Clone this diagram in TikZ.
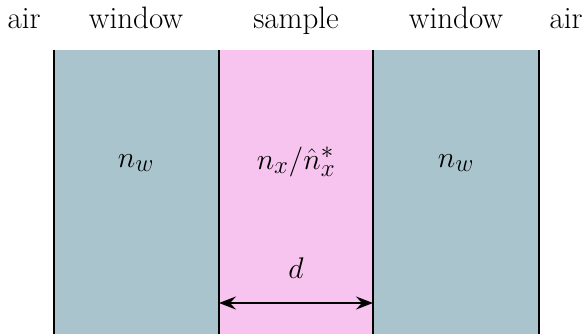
\documentclass[tikz,border=0pt]{standalone}
\usepackage{graphicx}
\usetikzlibrary{arrows.meta}
\definecolor{winblue}{HTML}{AAC4CE}
\definecolor{samppink}{HTML}{F7C3EF}
\newcommand{\bigmath}[1]{\scalebox{1.2}{$#1$}}
\begin{document}
\begin{tikzpicture}[x=1pt,y=-1pt,
  lab/.style={font=\fontsize{31}{36}\selectfont, inner sep=0pt, anchor=base},
  mlab/.style={font=\fontsize{24.88}{30}\selectfont, inner sep=0pt},
  bound/.style={line width=2pt, black}]
\useasboundingbox (0,0) rectangle (585,336);
% layers
\fill[winblue] (54,50) rectangle (219,334);
\fill[samppink] (219,50) rectangle (373,334);
\fill[winblue] (373,50) rectangle (539,334);
% boundaries
\foreach \x/\n in {54/a,219/b,373/c,539/d}{
  \coordinate (t\n) at (\x,50);
  \coordinate (b\n) at (\x,334);
  \draw[bound] (t\n) -- (b\n);
}
% top labels
\node[lab] (air1) at (24,29) {air};
\node[lab] (win1) at (136,29) {window};
\node[lab] (samp) at (296,29) {sample};
\node[lab] (win2) at (456,29) {window};
\node[lab] (air2) at (566,29) {air};
% layer labels
\node[mlab] (nw1) at (136,163) {\bigmath{n_w}};
\node[mlab] (nx) at (296,162) {\bigmath{n_x/\hat{n}_x^*}};
\node[mlab] (nw2) at (456,163) {\bigmath{n_w}};
% thickness
\coordinate (al) at (219,303);
\coordinate (ar) at (373,303);
\draw[line width=1.8pt, {Stealth[length=17pt,width=13pt,inset=6pt]}-{Stealth[length=17pt,width=13pt,inset=6pt]}] (al) -- (ar);
\node[mlab] (d) at (296,268) {\bigmath{d}};
\end{tikzpicture}
\end{document}
